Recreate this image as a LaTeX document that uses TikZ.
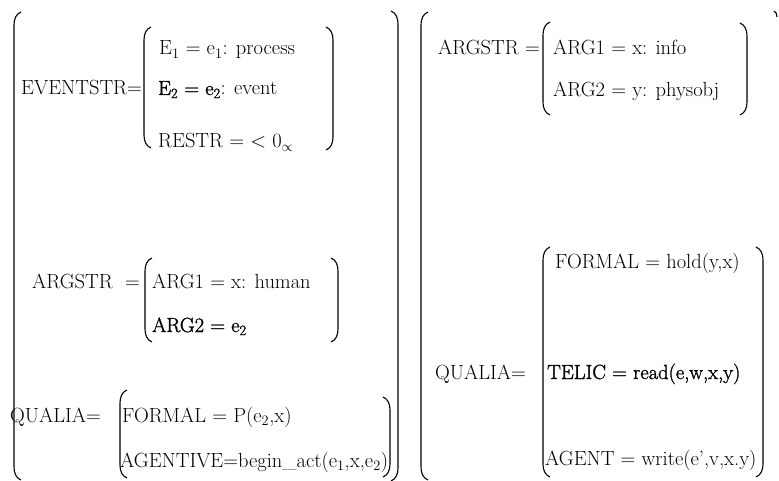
\documentclass[tikz,border=0pt]{standalone}
\usepackage{fontspec}
\newfontfamily\semib{Latin Modern Roman}[FakeBold=1.4]
\begin{document}
\begin{tikzpicture}[x=1pt,y=-1pt,
  brk/.style={draw=black,line width=1.1pt},
  lbl/.style={anchor=base west,inner sep=0pt,font=\fontsize{20.5}{24}\selectfont}]
\useasboundingbox (0,0) rectangle (779,481);
% square-ish brackets with rounded ends: x, top, bottom
\newcommand\leftbrk[3]{%
  \draw[brk] (#1+7,#2) .. controls (#1+2,#2+2) and (#1,#2+7) .. (#1,#2+13)
    -- (#1,#3-13) .. controls (#1,#3-7) and (#1+2,#3-2) .. (#1+7,#3);}
\newcommand\rightbrk[3]{%
  \draw[brk] (#1-7,#2) .. controls (#1-2,#2+2) and (#1,#2+7) .. (#1,#2+13)
    -- (#1,#3-13) .. controls (#1,#3-7) and (#1-2,#3-2) .. (#1-7,#3);}

% outer structures
\leftbrk{14}{12}{480}
\rightbrk{398}{11}{481}
\leftbrk{421}{12}{480}
\draw[brk] (774,11) .. controls (776,12) and (777,14) .. (777,17);

% left structure: event structure
\leftbrk{144}{27}{148}
\rightbrk{333}{27}{150}
\node[lbl] (evs) at (21,95) {EVENTSTR=};
\node[lbl] (e1) at (159,55) {E\textsubscript{1} = e\textsubscript{1}: process};
\node[lbl] (e2) at (158,95) {{\semib E\textsubscript{2} = e\textsubscript{2}}: event};
\node[lbl] (restr) at (158,148) {RESTR = $<$ 0\textsubscript{$\propto$}};

% left structure: argument structure
\leftbrk{145}{258}{342}
\rightbrk{338}{258}{342}
\node[lbl] (args1) at (32,288) {ARGSTR \ =};
\node[lbl] (a11) at (152,288) {ARG1 = x: human};
\node[lbl] (a12) at (152,332) {\semib ARG2 = e\textsubscript{2}};

% left structure: qualia
\leftbrk{120}{390}{478}
\rightbrk{390}{397}{477}
\node[lbl] (q1) at (10,422) {QUALIA=};
\node[lbl] (f1) at (122,422) {FORMAL = P(e\textsubscript{2},x)};
\node[lbl] (ag1) at (120,467) {AGENTIVE=begin\_act(e\textsubscript{1},x,e\textsubscript{2})};

% right structure: argument structure
\leftbrk{543}{22}{115}
\rightbrk{747}{23}{115}
\node[lbl] (args2) at (438,55) {ARGSTR =};
\node[lbl] (a21) at (553,55) {ARG1 = x: info};
\node[lbl] (a22) at (553,97) {ARG2 = y: physobj};

% right structure: qualia
\leftbrk{543}{247}{477}
\rightbrk{763}{247}{477}
\node[lbl] (q2) at (435,379) {QUALIA=};
\node[lbl] (f2) at (555,269) {FORMAL = hold(y,x)};
\node[lbl] (t2) at (547,379) {\semib TELIC = read(e,w,x,y)};
\node[lbl] (ag2) at (545,465) {AGENT = write(e',v,x.y)};
\end{tikzpicture}
\end{document}
